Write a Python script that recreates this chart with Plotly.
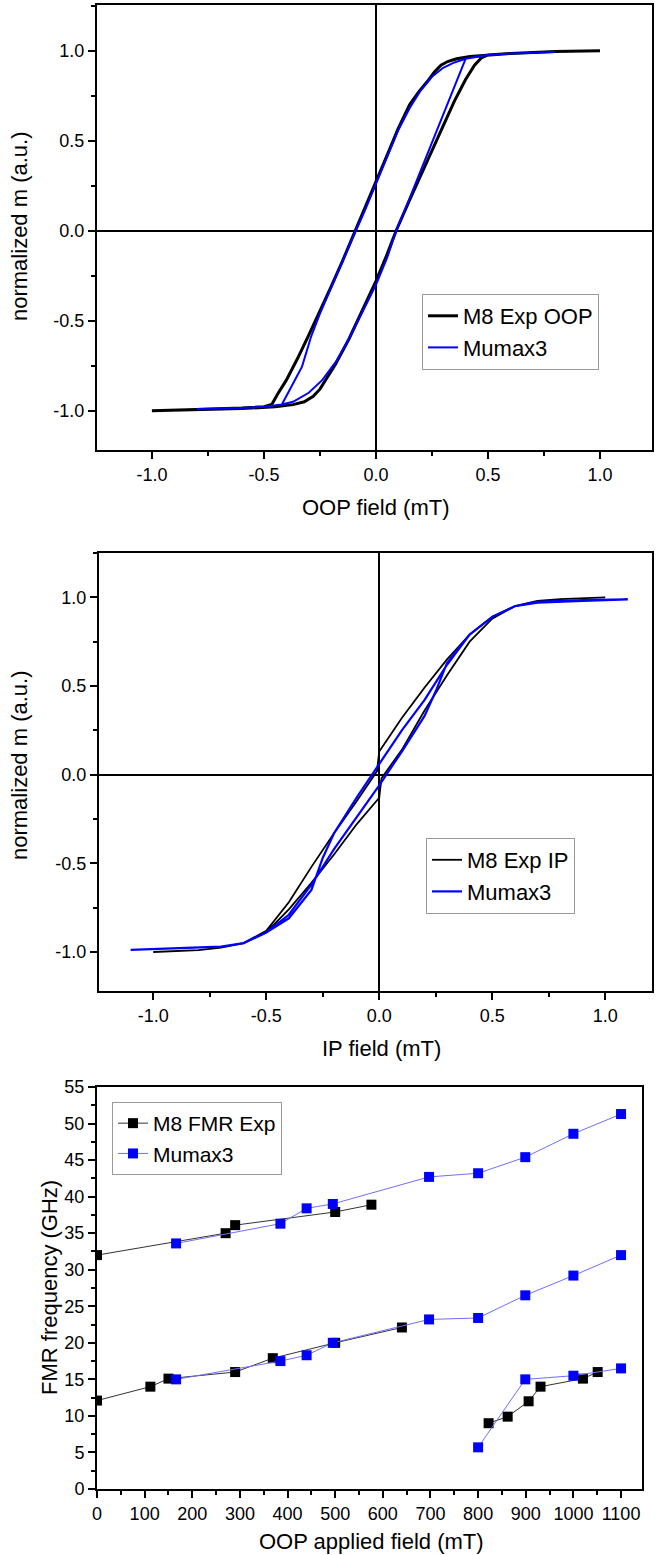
import plotly.graph_objects as go

# --- panel 1: OOP hysteresis ---
oop_exp_down_h = [1.0, 0.8, 0.6, 0.49, 0.42, 0.36, 0.32, 0.29, 0.26, 0.23, 0.19, 0.15, 0.10, 0.05, 0.0,
                  -0.05, -0.09, -0.15, -0.2, -0.25, -0.3, -0.35, -0.4, -0.44, -0.465, -0.5, -0.6, -0.8, -1.0]
oop_exp_down_m = [1.0, 0.995, 0.985, 0.976, 0.968, 0.955, 0.94, 0.92, 0.88, 0.83, 0.77, 0.70, 0.57, 0.42, 0.27,
                  0.12, 0.0, -0.17, -0.31, -0.45, -0.58, -0.71, -0.83, -0.91, -0.965, -0.978, -0.985, -0.993, -1.0]
oop_exp_up_h = [-1.0, -0.8, -0.6, -0.45, -0.37, -0.32, -0.28, -0.25, -0.22, -0.18, -0.12, -0.06, 0.0,
                0.05, 0.09, 0.15, 0.2, 0.25, 0.3, 0.35, 0.4, 0.44, 0.47, 0.5, 0.6, 0.8, 1.0]
oop_exp_up_m = [-1.0, -0.995, -0.988, -0.978, -0.966, -0.95, -0.92, -0.88, -0.82, -0.74, -0.60, -0.44, -0.28,
                -0.13, 0.0, 0.17, 0.31, 0.45, 0.59, 0.72, 0.84, 0.92, 0.96, 0.977, 0.985, 0.995, 1.0]

oop_sim_down_h = [0.8, 0.6, 0.5, 0.45, 0.40, 0.35, 0.30, 0.25, 0.20, 0.15, 0.10, 0.05, 0.0,
                  -0.05, -0.09, -0.15, -0.2, -0.25, -0.29, -0.33, -0.42, -0.5, -0.6, -0.8]
oop_sim_down_m = [0.993, 0.985, 0.976, 0.968, 0.955, 0.935, 0.905, 0.855, 0.78, 0.68, 0.56, 0.41, 0.255,
                  0.11, 0.0, -0.17, -0.31, -0.46, -0.59, -0.755, -0.965, -0.978, -0.985, -0.99]
oop_sim_up_h = [-0.8, -0.6, -0.5, -0.42, -0.37, -0.30, -0.24, -0.18, -0.12, -0.06, 0.0,
                0.05, 0.09, 0.15, 0.22, 0.40, 0.5, 0.6, 0.8]
oop_sim_up_m = [-0.99, -0.985, -0.978, -0.965, -0.95, -0.90, -0.83, -0.73, -0.60, -0.45, -0.30,
                -0.15, 0.0, 0.18, 0.40, 0.955, 0.976, 0.985, 0.993]

# --- panel 2: IP hysteresis ---
ip_exp_down_h = [1.0, 0.8, 0.7, 0.6, 0.5, 0.4, 0.3, 0.2, 0.1, 0.0, -0.01, -0.1, -0.2, -0.3, -0.4,
                 -0.5, -0.6, -0.7, -0.8, -1.0]
ip_exp_down_m = [1.0, 0.99, 0.98, 0.95, 0.89, 0.79, 0.65, 0.49, 0.32, 0.13, 0.02, -0.15, -0.33, -0.52, -0.72,
                 -0.88, -0.95, -0.975, -0.99, -1.0]
ip_exp_up_h = [-1.0, -0.8, -0.7, -0.6, -0.5, -0.4, -0.3, -0.2, -0.1, 0.0, 0.01, 0.1, 0.2, 0.3, 0.4,
               0.5, 0.6, 0.7, 0.8, 1.0]
ip_exp_up_m = [-1.0, -0.99, -0.975, -0.95, -0.89, -0.76, -0.61, -0.45, -0.28, -0.13, -0.02, 0.14, 0.36, 0.56, 0.75,
               0.88, 0.95, 0.975, 0.99, 1.0]

ip_sim_down_h = [1.1, 0.9, 0.7, 0.6, 0.5, 0.4, 0.3, 0.2, 0.1, 0.0, -0.1, -0.2, -0.25, -0.3, -0.4,
                 -0.5, -0.6, -0.7, -0.9, -1.1]
ip_sim_down_m = [0.988, 0.985, 0.975, 0.95, 0.89, 0.79, 0.62, 0.42, 0.25, 0.06, -0.13, -0.33, -0.47, -0.65, -0.81,
                 -0.89, -0.95, -0.97, -0.98, -0.988]
ip_sim_up_h = [-1.1, -0.9, -0.7, -0.6, -0.5, -0.4, -0.3, -0.2, -0.1, 0.0, 0.1, 0.2, 0.25, 0.3, 0.4,
               0.5, 0.6, 0.7, 0.9, 1.1]
ip_sim_up_m = [-0.988, -0.98, -0.97, -0.95, -0.89, -0.79, -0.62, -0.42, -0.24, -0.06, 0.13, 0.33, 0.47, 0.63, 0.79,
               0.89, 0.95, 0.97, 0.98, 0.988]

# --- panel 3: FMR frequency vs field (None separates the modes) ---
fmr_exp_field = [0, 270, 290, 500, 576, None,
                 0, 112, 150, 290, 369, 500, 640, None,
                 822, 862, 906, 931, 1020, 1051]
fmr_exp_freq = [32.0, 35.0, 36.1, 37.9, 38.9, None,
                12.1, 14.0, 15.1, 16.0, 17.9, 20.0, 22.1, None,
                9.0, 9.9, 12.0, 14.0, 15.1, 16.0]
fmr_sim_field = [166, 385, 440, 495, 697, 800, 899, 1000, 1100, None,
                 166, 385, 440, 495, 697, 800, 899, 1000, 1100, None,
                 800, 899, 1000, 1100]
fmr_sim_freq = [33.6, 36.3, 38.4, 39.0, 42.7, 43.2, 45.4, 48.6, 51.3, None,
                15.0, 17.5, 18.3, 20.0, 23.2, 23.4, 26.5, 29.2, 32.0, None,
                5.7, 15.0, 15.5, 16.5]

loop_ticks = [-1.0, -0.5, 0.0, 0.5, 1.0]
loop_ticktext = ["-1.0", "-0.5", "0.0", "0.5", "1.0"]
fmr_xticks = list(range(0, 1101, 100))
fmr_yticks = list(range(0, 56, 5))

FONT = "Liberation Sans, Arial, sans-serif"
W, H = 656, 1555


def px_dom(a, b, size):
    return [a / size, b / size]


def ydom(top, bottom):
    return [1 - bottom / H, 1 - top / H]


fig = go.Figure()

fig.add_trace(go.Scatter(x=oop_exp_down_h + oop_exp_up_h, y=oop_exp_down_m + oop_exp_up_m,
                         mode="lines", line=dict(color="black", width=3), name="M8 Exp OOP",
                         xaxis="x", yaxis="y", legend="legend"))
fig.add_trace(go.Scatter(x=oop_sim_down_h + oop_sim_up_h, y=oop_sim_down_m + oop_sim_up_m,
                         mode="lines", line=dict(color="#0000ff", width=2), name="Mumax3",
                         xaxis="x", yaxis="y", legend="legend"))

fig.add_trace(go.Scatter(x=ip_exp_down_h + ip_exp_up_h, y=ip_exp_down_m + ip_exp_up_m,
                         mode="lines", line=dict(color="black", width=1.8), name="M8 Exp IP",
                         xaxis="x2", yaxis="y2", legend="legend2"))
fig.add_trace(go.Scatter(x=ip_sim_down_h + ip_sim_up_h, y=ip_sim_down_m + ip_sim_up_m,
                         mode="lines", line=dict(color="#0000ff", width=2.2), name="Mumax3",
                         xaxis="x2", yaxis="y2", legend="legend2"))

fig.add_trace(go.Scatter(x=fmr_exp_field, y=fmr_exp_freq, mode="lines+markers",
                         line=dict(color="#333333", width=1), connectgaps=False,
                         marker=dict(symbol="square", size=10, color="black"),
                         name="M8 FMR Exp", xaxis="x3", yaxis="y3", legend="legend3"))
fig.add_trace(go.Scatter(x=fmr_sim_field, y=fmr_sim_freq, mode="lines+markers",
                         line=dict(color="#6f6fff", width=1), connectgaps=False,
                         marker=dict(symbol="square", size=10, color="#0000ff"),
                         name="Mumax3", xaxis="x3", yaxis="y3", legend="legend3"))


def main_axis(rng, domain, anchor, tickvals, ticktext, minor_dtick, minor_tick0, side, zero):
    return dict(range=rng, domain=domain, anchor=anchor, side=side,
                showline=True, linecolor="black", linewidth=2, mirror=True,
                ticks="outside", ticklen=7, tickwidth=2, tickcolor="black",
                tickmode="array", tickvals=tickvals, ticktext=ticktext,
                minor=dict(ticks="outside", ticklen=4, tickwidth=1.5, tickcolor="black",
                           tickmode="linear", tick0=minor_tick0, dtick=minor_dtick),
                showgrid=False, zeroline=zero, zerolinecolor="black", zerolinewidth=2,
                tickfont=dict(family=FONT, size=18, color="black"), automargin=False)


def mirror_axis(rng, overlay, anchor, tickvals, minor_dtick, minor_tick0, side):
    return dict(range=rng, overlaying=overlay, anchor=anchor, side=side,
                showline=False, ticks="inside", ticklen=7, tickwidth=2, tickcolor="black",
                tickmode="array", tickvals=tickvals, showticklabels=False,
                minor=dict(ticks="inside", ticklen=4, tickwidth=1.5, tickcolor="black",
                           tickmode="linear", tick0=minor_tick0, dtick=minor_dtick),
                showgrid=False, zeroline=False, automargin=False)


p1x, p1y = [-1.245, 1.232], [-1.218, 1.254]
p2x, p2y = [-1.24, 1.207], [-1.22, 1.25]
p3x, p3y = [0, 1144], [0, 55]

fig.update_layout(
    xaxis=main_axis(p1x, px_dom(97, 652, W), "y", loop_ticks, loop_ticktext, 0.25, 0, "bottom", True),
    yaxis=main_axis(p1y, ydom(5, 450), "x", loop_ticks, loop_ticktext, 0.25, 0, "left", True),
    xaxis2=main_axis(p2x, px_dom(99, 652, W), "y2", loop_ticks, loop_ticktext, 0.25, 0, "bottom", True),
    yaxis2=main_axis(p2y, ydom(553, 991), "x2", loop_ticks, loop_ticktext, 0.25, 0, "left", True),
    xaxis3=main_axis(p3x, px_dom(97, 642, W), "y3", fmr_xticks, [str(v) for v in fmr_xticks], 50, 0, "bottom", False),
    yaxis3=main_axis(p3y, ydom(1087, 1489), "x3", fmr_yticks, [str(v) for v in fmr_yticks], 2.5, 0, "left", False),
    xaxis4=mirror_axis(p1x, "x", "y", loop_ticks, 0.25, 0, "top"),
    yaxis4=mirror_axis(p1y, "y", "x", loop_ticks, 0.25, 0, "right"),
    xaxis5=mirror_axis(p2x, "x2", "y2", loop_ticks, 0.25, 0, "top"),
    yaxis5=mirror_axis(p2y, "y2", "x2", loop_ticks, 0.25, 0, "right"),
    xaxis6=mirror_axis(p3x, "x3", "y3", fmr_xticks, 50, 0, "top"),
    yaxis6=mirror_axis(p3y, "y3", "x3", fmr_yticks, 2.5, 0, "right"),
)

legend_style = dict(bgcolor="white", bordercolor="#999999", borderwidth=1,
                    xanchor="left", yanchor="top", tracegroupgap=0)
fig.update_layout(
    legend=dict(x=422 / W, y=1 - 294 / H, font=dict(family=FONT, size=22, color="black"), **legend_style),
    legend2=dict(x=426 / W, y=1 - 838 / H, font=dict(family=FONT, size=22, color="black"), **legend_style),
    legend3=dict(x=112 / W, y=1 - 1102 / H, font=dict(family=FONT, size=21, color="black"), **legend_style),
)

titles = [
    ("OOP field (mT)", 376, 507, 0),
    ("IP field (mT)", 381, 1048, 0),
    ("OOP applied field (mT)", 372, 1541, 0),
    ("normalized m (a.u.)", 19, 226, -90),
    ("normalized m (a.u.)", 19, 765, -90),
    ("FMR frequency (GHz)", 49, 1288, -90),
]
for text, cx, cy, ang in titles:
    fig.add_annotation(text=text, x=cx / W, y=1 - cy / H, xref="paper", yref="paper",
                       showarrow=False, textangle=ang, xanchor="center", yanchor="middle",
                       font=dict(family=FONT, size=22, color="black"))

fig.update_layout(width=W, height=H, margin=dict(l=0, r=0, t=0, b=0),
                  paper_bgcolor="white", plot_bgcolor="white", showlegend=True)

# the page body has a default 8px margin; drop it so the figure fills the window
fig.write_html("out.html", config={"displayModeBar": False},
               post_script="document.body.style.margin='0';")
